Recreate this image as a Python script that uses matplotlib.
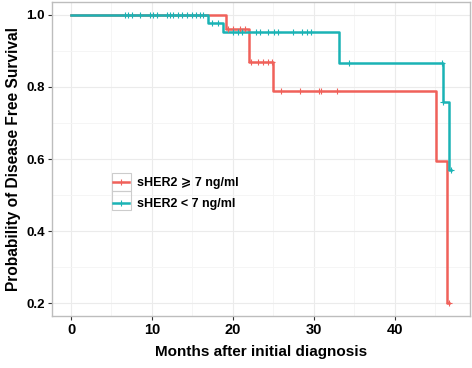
import numpy as np
import matplotlib.pyplot as plt
from matplotlib.lines import Line2D
from matplotlib.patches import Rectangle

plt.rcParams['font.family'] = ['Liberation Sans', 'DejaVu Sans']

# step curves (time of drop, survival after drop)
hi_times = [0, 19.1, 22.0, 24.9, 45.1, 46.5]
hi_surv = [1.0, 0.961, 0.870, 0.790, 0.594, 0.200]
hi_end = 46.7
hi_cens = [19.4, 20.0, 20.9, 21.5, 22.3, 23.1, 23.7, 24.4, 24.8,
           25.9, 28.3, 30.7, 30.9, 32.9, 46.7]

lo_times = [0, 16.9, 18.8, 33.1, 46.0, 46.7]
lo_surv = [1.0, 0.977, 0.953, 0.867, 0.759, 0.570]
lo_end = 47.0
lo_cens = [6.7, 7.1, 7.5, 8.5, 9.8, 10.1, 10.6, 11.8, 12.2, 12.6, 13.2,
           13.7, 14.3, 14.9, 15.5, 15.9, 16.3, 17.4, 18.2, 20.0, 20.6,
           21.1, 22.9, 23.3, 24.3, 25.1, 25.6, 27.4, 28.5, 29.2, 29.6,
           34.4, 45.9, 46.0, 47.0]

labels = ['sHER2 \u2a7e 7 ng/ml', 'sHER2 < 7 ng/ml']
red = '#F0615A'
teal = '#1AB3B5'


def surv_at(times, surv, t):
    i = np.searchsorted(times, t, side='right') - 1
    return surv[i]


fig = plt.figure(figsize=(4.72, 3.68), dpi=100)
ax = fig.add_axes([52 / 472, 1 - 316 / 368, 418 / 472, 314 / 368])

for times, surv, end, cens, col in [(hi_times, hi_surv, hi_end, hi_cens, red),
                                     (lo_times, lo_surv, lo_end, lo_cens, teal)]:
    x = list(times) + [end]
    y = list(surv) + [surv[-1]]
    ax.step(x, y, where='post', color=col, lw=1.8, zorder=3)
    cy = [surv_at(times, surv, t) for t in cens]
    ax.plot(cens, cy, ls='none', marker='+', ms=4.5, mew=0.8, color=col, zorder=4)

ax.set_xlim(-2.35, 49.3)
ax.set_ylim(0.164, 1.036)
ax.set_xticks([0, 10, 20, 30, 40])
ax.set_xticks([5, 15, 25, 35, 45], minor=True)
ax.set_yticks([0.2, 0.4, 0.6, 0.8, 1.0])
ax.set_yticks([0.3, 0.5, 0.7, 0.9], minor=True)
ax.set_yticklabels(['0.2', '0.4', '0.6', '0.8', '1.0'])
ax.grid(which='major', color='#ebebeb', lw=0.8)
ax.grid(which='minor', color='#f4f4f4', lw=0.6)
ax.set_axisbelow(True)
for s in ax.spines.values():
    s.set_color('#bdbdbd')
    s.set_linewidth(1.0)
ax.tick_params(which='major', length=3, color='#333333', pad=2)
ax.tick_params(axis='x', labelsize=10.5)
ax.tick_params(axis='y', labelsize=9.5)
ax.tick_params(which='minor', length=0)
for lab in ax.get_xticklabels() + ax.get_yticklabels():
    lab.set_fontweight('bold')
ax.set_xlabel('Months after initial diagnosis', fontsize=11, fontweight='bold', labelpad=6)
ax.set_ylabel('Probability of Disease Free Survival', fontsize=11.2, fontweight='bold', labelpad=4)

# legend key boxes
for yb, hb in [(0.398, 0.0573), (0.3376, 0.0605)]:
    ax.add_patch(Rectangle((0.1435, yb), 0.0455, hb, transform=ax.transAxes,
                           fill=False, ec='#cccccc', lw=0.8, zorder=5))

handles = [Line2D([], [], color=red, lw=1.8, marker='+', ms=4.5, mew=0.8),
           Line2D([], [], color=teal, lw=1.8, marker='+', ms=4.5, mew=0.8)]
leg = ax.legend(handles, labels,
                loc='upper left', bbox_to_anchor=(0.146, 0.443), frameon=False,
                borderpad=0, borderaxespad=0,
                handlelength=1.3, handletextpad=0.6, labelspacing=0.72,
                prop={'weight': 'bold', 'size': 9})

fig.savefig('out.png', dpi=100)
